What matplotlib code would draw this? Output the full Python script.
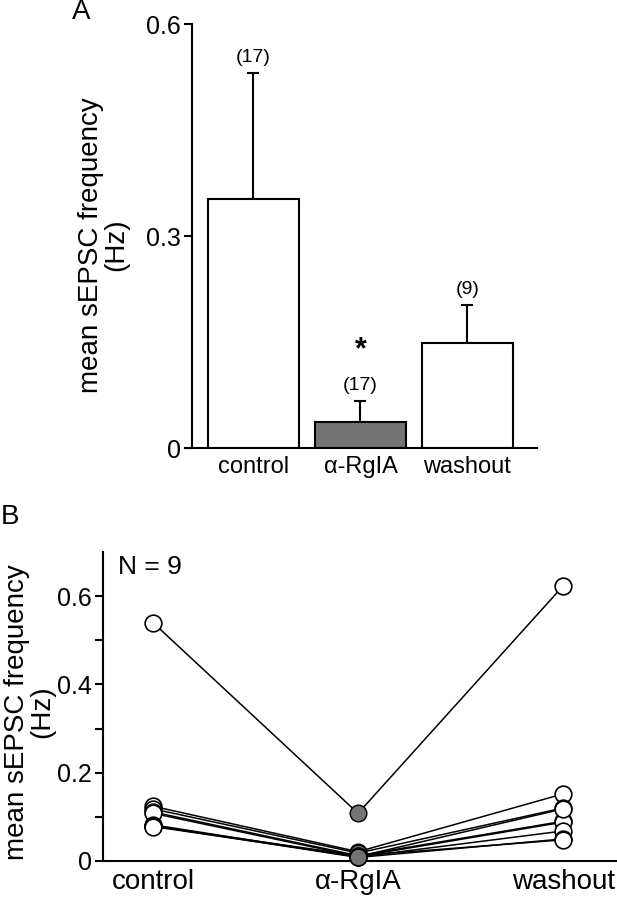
import numpy as np
import matplotlib
matplotlib.use("Agg")
import matplotlib.pyplot as plt
from matplotlib.ticker import FixedLocator

plt.rcParams['font.family'] = ['Liberation Sans', 'DejaVu Sans']

# panel A: mean +/- SEM
conds = ['control', '\u03b1-RgIA', 'washout']
means = [0.353, 0.037, 0.149]
sems = [0.178, 0.030, 0.054]
ncells = ['(17)', '(17)', '(9)']
bar_colors = ['white', '#737373', 'white']

# panel B: individual cells (N = 9)
ctrl = [0.540, 0.124, 0.118, 0.111, 0.108, 0.082, 0.080, 0.079, 0.078]
rgia = [0.108, 0.021, 0.018, 0.012, 0.010, 0.009, 0.008, 0.012, 0.010]
wash = [0.623, 0.152, 0.120, 0.090, 0.088, 0.068, 0.050, 0.048, 0.118]

grey = '#737373'
ylab = 'mean sEPSC frequency\n(Hz)'

fig = plt.figure(figsize=(6.17, 9), dpi=100)

# ---- A ----
axA = fig.add_axes([185/617, 1-448/900, 352/617, 424/900])
x = np.arange(3)
axA.bar(x, means, width=0.85, color=bar_colors, edgecolor='black', linewidth=1.5, zorder=2)
axA.errorbar(x, means, yerr=[np.zeros(3), sems], fmt='none', ecolor='black',
             elinewidth=1.5, capsize=4, capthick=1.5, zorder=1)
for i in range(3):
    axA.annotate(ncells[i], (x[i], means[i] + sems[i]), xytext=(0, 5),
                 textcoords='offset points', ha='center', va='bottom', fontsize=14)
axA.text(x[1], 0.138, '*', ha='center', va='center', fontsize=22, fontweight='bold')
axA.set_xlim(-0.64, 2.65)
axA.set_ylim(0, 0.6)
axA.spines['left'].set_position(('data', -0.578))
axA.spines['left'].set_bounds(0, 0.6)
axA.spines['top'].set_visible(False)
axA.spines['right'].set_visible(False)
for s in ['left', 'bottom']:
    axA.spines[s].set_linewidth(1.5)
axA.set_yticks([0, 0.3, 0.6])
axA.set_yticklabels(['0', '0.3', '0.6'])
axA.tick_params(axis='y', length=6, width=1.5, labelsize=18, pad=2)
axA.set_xticks(x)
axA.set_xticklabels(conds)
axA.tick_params(axis='x', length=0, labelsize=17, pad=6)
fig.text(104/617, 1-245/900, ylab, rotation=90, ha='center', va='center',
         fontsize=20, linespacing=0.95, multialignment='center')
fig.text(81/617, 1-12/900, 'A', ha='center', va='center', fontsize=20)

# ---- B ----
axB = fig.add_axes([103/617, 1-861/900, 514/617, 309/900])
for i in range(len(ctrl)):
    axB.plot([0, 1, 2], [ctrl[i], rgia[i], wash[i]], color='black', lw=1.1, zorder=1)
axB.plot(np.zeros(len(ctrl)), ctrl, 'o', ms=12, mfc='white', mec='black', mew=1.2, zorder=3, clip_on=False)
axB.plot(np.ones(len(rgia)), rgia, 'o', ms=12, mfc=grey, mec='black', mew=1.0, zorder=3, clip_on=False)
axB.plot(np.full(len(wash), 2), wash, 'o', ms=12, mfc='white', mec='black', mew=1.2, zorder=3, clip_on=False)
axB.set_xlim(-0.244, 2.263)
axB.set_ylim(0, 0.7)
axB.spines['top'].set_visible(False)
axB.spines['right'].set_visible(False)
for s in ['left', 'bottom']:
    axB.spines[s].set_linewidth(1.5)
axB.set_yticks([0, 0.2, 0.4, 0.6])
axB.set_yticklabels(['0', '0.2', '0.4', '0.6'])
axB.yaxis.set_minor_locator(FixedLocator([0.1, 0.3, 0.5]))
axB.tick_params(axis='y', which='both', length=6, width=1.5, labelsize=18, pad=2)
axB.set_xticks([0, 1, 2])
axB.set_xticklabels(conds)
axB.tick_params(axis='x', length=0, labelsize=20, pad=6)
axB.text(0.03, 0.95, 'N = 9', transform=axB.transAxes, ha='left', va='center', fontsize=19)
fig.text(30/617, 1-712/900, ylab, rotation=90, ha='center', va='center',
         fontsize=20, linespacing=0.95, multialignment='center')
fig.text(10/617, 1-517/900, 'B', ha='center', va='center', fontsize=20)

fig.savefig('out.png', dpi=100)
